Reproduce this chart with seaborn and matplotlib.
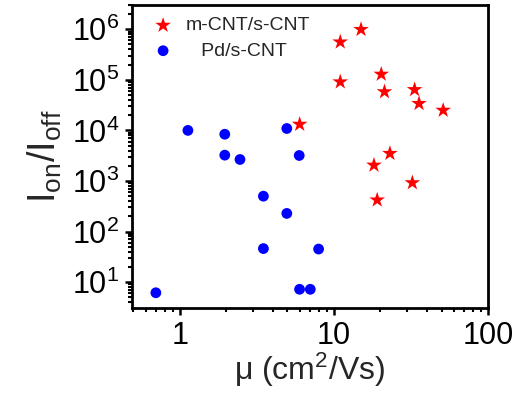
import numpy as np
import pandas as pd
import matplotlib
matplotlib.use("Agg")
import matplotlib.pyplot as plt
import matplotlib.ticker as mticker
import seaborn as sns

# data
mcnt_mu = [15.0, 11.0, 11.0, 20.3, 21.3, 33.4, 35.7, 51.2, 6.0, 23.1, 18.2, 32.3, 19.1]
mcnt_ratio = [9.9e5, 5.6e5, 9.1e4, 1.29e5, 5.8e4, 6.4e4, 3.4e4, 2.5e4, 1.32e4, 3.5e3, 2.05e3, 9.2e2, 4.2e2]
pd_mu = [1.13, 1.96, 4.95, 1.96, 2.46, 5.96, 3.49, 4.95, 3.49, 7.96, 5.99, 7.03, 0.70]
pd_ratio = [1.0e4, 8.4e3, 1.09e4, 3.24e3, 2.66e3, 3.19e3, 500, 228, 46, 45, 7.2, 7.2, 6.15]
label_mcnt = "m-CNT/s-CNT"
label_pd = "   Pd/s-CNT"

sns.set_theme(style="ticks")
plt.rcParams['font.family'] = ['Liberation Sans', 'DejaVu Sans']
plt.rcParams['mathtext.fontset'] = 'custom'
plt.rcParams['mathtext.rm'] = 'Liberation Sans'
plt.rcParams['mathtext.it'] = 'Liberation Sans:italic'

fig = plt.figure(figsize=(5.29, 3.96), dpi=100)
ax = fig.add_axes([0.2495, 0.222, 0.673, 0.765])

df1 = pd.DataFrame({"mu": mcnt_mu, "ratio": mcnt_ratio})
df2 = pd.DataFrame({"mu": pd_mu, "ratio": pd_ratio})
sns.scatterplot(data=df1, x="mu", y="ratio", marker="*", s=140, color="#ff0000",
                edgecolor="none", label=label_mcnt, ax=ax, zorder=3)
sns.scatterplot(data=df2, x="mu", y="ratio", marker="o", s=60, color="#0000ff",
                edgecolor="none", label=label_pd, ax=ax, zorder=3)

ax.set_xscale("log")
ax.set_yscale("log")
ax.set_xlim(0.49, 100)
ax.set_ylim(3.06, 3.0e6)

ax.xaxis.set_major_locator(mticker.LogLocator(base=10, numticks=10))
ax.xaxis.set_minor_locator(mticker.LogLocator(base=10, subs=np.arange(2, 10), numticks=20))
ax.xaxis.set_major_formatter(mticker.FuncFormatter(lambda v, p: "%g" % v))
ax.xaxis.set_minor_formatter(mticker.NullFormatter())
ax.yaxis.set_major_locator(mticker.LogLocator(base=10, numticks=10))
ax.yaxis.set_minor_locator(mticker.LogLocator(base=10, subs=np.arange(2, 10), numticks=20))
ax.yaxis.set_minor_formatter(mticker.NullFormatter())

for sp in ax.spines.values():
    sp.set_linewidth(2.0)
    sp.set_color("black")
ax.tick_params(which="major", direction="out", length=5, width=1.8, labelsize=22, colors="black", pad=4)
ax.tick_params(which="minor", direction="out", length=3, width=1.5, colors="black")

ax.set_xlabel("\u03bc (cm$^2$/Vs)", fontsize=23, labelpad=0)
ax.set_ylabel("I$_{\\mathrm{on}}$/I$_{\\mathrm{off}}$", fontsize=27, labelpad=6)

leg = ax.legend(loc="upper left", frameon=False, fontsize=14, handletextpad=0.15,
                borderaxespad=0.2, labelspacing=0.4, markerscale=1.0)

fig.savefig("out.png", dpi=100)
